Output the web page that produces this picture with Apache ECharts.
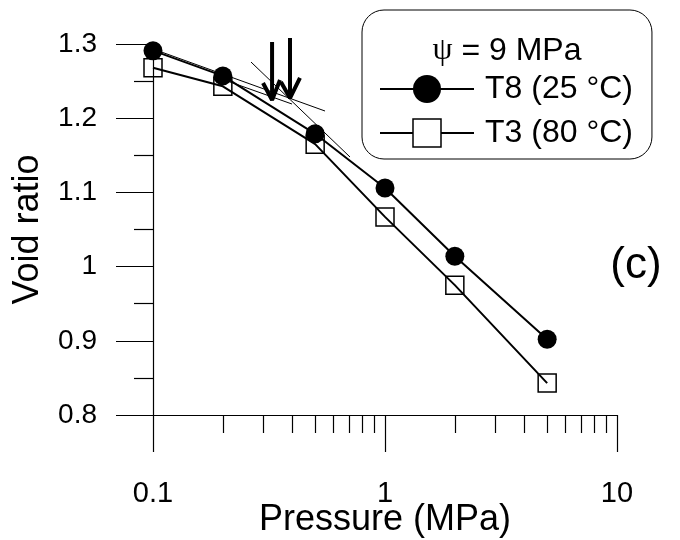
<!DOCTYPE html>
<html><head><meta charset="utf-8">
<script src="https://cdn.jsdelivr.net/npm/echarts@6/dist/echarts.min.js"></script>
<style>html,body{margin:0;padding:0;background:#fff}#c{width:680px;height:540px}</style>
</head><body><div id="c"></div>
<script>
// ---- data ----
const pressure = [0.1, 0.2, 0.5, 1, 2, 5];
const voidT8 = [1.291, 1.257, 1.179, 1.106, 1.014, 0.902];
const voidT3 = [1.268, 1.243, 1.165, 1.067, 0.975, 0.843];
const seriesNames = ['T8 (25 °C)', 'T3 (80 °C)'];
const xMinorTicks = [0.2, 0.3, 0.4, 0.5, 0.6, 0.7, 0.8, 0.9, 2, 3, 4, 5, 6, 7, 8, 9];
// construction lines (pressure, void ratio)
const tangentA = [[0.1, 1.2933], [0.5514, 1.2097]];
const tangentB = [[0.2645, 1.2757], [0.7066, 1.1477]];
const tangentC = [[0.2147, 1.2488], [0.3973, 1.2191]];
const arrow1Shaft = [[0.326, 1.3027], [0.326, 1.2245]];
const arrow1Head = [[0.298, 1.2474], [0.326, 1.2245], [0.3527, 1.2515]];
const arrow2Shaft = [[0.3895, 1.3081], [0.3895, 1.2272]];
const arrow2Head = [[0.356, 1.2488], [0.3895, 1.2272], [0.430, 1.2542]];

const FONT = 'Liberation Sans, Arial, sans-serif';
const pairs = (xs, ys) => xs.map((x, i) => [x, ys[i]]);

function thin(data, w, clip) {
  return { type: 'line', data: data, symbol: 'none', silent: true, clip: clip !== false,
    lineStyle: { color: '#000', width: w }, z: 1, animation: false };
}

const chart = echarts.init(document.getElementById('c'), null, { renderer: 'canvas' });
chart.setOption({
  animation: false,
  backgroundColor: '#fff',
  grid: { left: 153, right: 63, top: 44, bottom: 125, containLabel: false, outerBoundsMode: 'none' },
  xAxis: [{
    type: 'log', min: 0.1, max: 10, logBase: 10,
    name: 'Pressure (MPa)', nameLocation: 'middle', nameGap: 87, nameMoveOverlap: false,
    nameTextStyle: { fontSize: 36, fontFamily: FONT, color: '#000' },
    axisLine: { show: true, lineStyle: { color: '#000', width: 1.2 } },
    axisTick: { show: true, inside: false, length: 37, lineStyle: { color: '#000', width: 1.2 } },
    axisLabel: { fontSize: 29, fontFamily: FONT, color: '#000', margin: 64 },
    splitLine: { show: false }, minorTick: { show: false }
  }, {
    type: 'log', min: 0.1, max: 10, logBase: 10, position: 'bottom', offset: 0,
    axisLine: { show: false },
    axisTick: { show: true, inside: false, length: 18, customValues: xMinorTicks,
      lineStyle: { color: '#000', width: 1.2 } },
    axisLabel: { show: false }, splitLine: { show: false }
  }],
  yAxis: {
    type: 'value', min: 0.8, max: 1.3, interval: 0.1,
    name: 'Void ratio', nameLocation: 'middle', nameGap: 107, nameMoveOverlap: false,
    nameTextStyle: { fontSize: 36, fontFamily: FONT, color: '#000' },
    axisLine: { show: true, lineStyle: { color: '#000', width: 1.2 } },
    axisTick: { show: true, inside: false, length: 37, lineStyle: { color: '#000', width: 1.2 } },
    minorTick: { show: true, splitNumber: 2, length: 19, lineStyle: { color: '#000', width: 1.2 } },
    axisLabel: { fontSize: 28, fontFamily: FONT, color: '#000', margin: 56 },
    splitLine: { show: false }
  },
  legend: {
    data: [
      { name: seriesNames[0], itemStyle: { color: '#000' } },
      { name: seriesNames[1], itemStyle: { color: '#fff', borderColor: '#000', borderWidth: 1.5 } }
    ],
    orient: 'vertical', left: 362, top: 10,
    padding: [63, 19, 10, 17], itemWidth: 94, itemHeight: 35, itemGap: 12,
    borderColor: '#000', borderWidth: 1, borderRadius: 22, backgroundColor: '#fff',
    selectedMode: false,
    textStyle: { fontSize: 32, fontFamily: FONT, color: '#000', padding: [0, 0, 0, 6] }
  },
  graphic: [
    { type: 'text', x: 507, y: 51, z: 100,
      style: { text: '{p|ψ} = 9 MPa', fontSize: 32, fontFamily: FONT, fill: '#000',
        align: 'center', verticalAlign: 'middle', textAlign: 'center', textVerticalAlign: 'middle',
        rich: { p: { fontSize: 32, fontFamily: 'Liberation Serif, DejaVu Serif, serif', fill: '#000' } } } },
    { type: 'text', x: 636, y: 266, z: 100,
      style: { text: '(c)', fontSize: 44, fontFamily: FONT, fill: '#000',
        align: 'center', verticalAlign: 'middle', textAlign: 'center', textVerticalAlign: 'middle' } }
  ],
  series: [
    { name: seriesNames[0], type: 'line', data: pairs(pressure, voidT8), symbol: 'circle', symbolSize: 19,
      itemStyle: { color: '#000' }, lineStyle: { color: '#000', width: 2 }, z: 3, silent: true },
    { name: seriesNames[1], type: 'line', data: pairs(pressure, voidT3), symbol: 'rect', symbolSize: 18,
      itemStyle: { color: 'transparent', borderColor: '#000', borderWidth: 1.5 },
      lineStyle: { color: '#000', width: 2 }, z: 3, silent: true },
    thin(tangentA, 1), thin(tangentB, 1), thin(tangentC, 1),
    thin(arrow1Shaft, 4, false), thin(arrow1Head, 4, false),
    thin(arrow2Shaft, 4, false), thin(arrow2Head, 4, false)
  ]
});
</script></body></html>
